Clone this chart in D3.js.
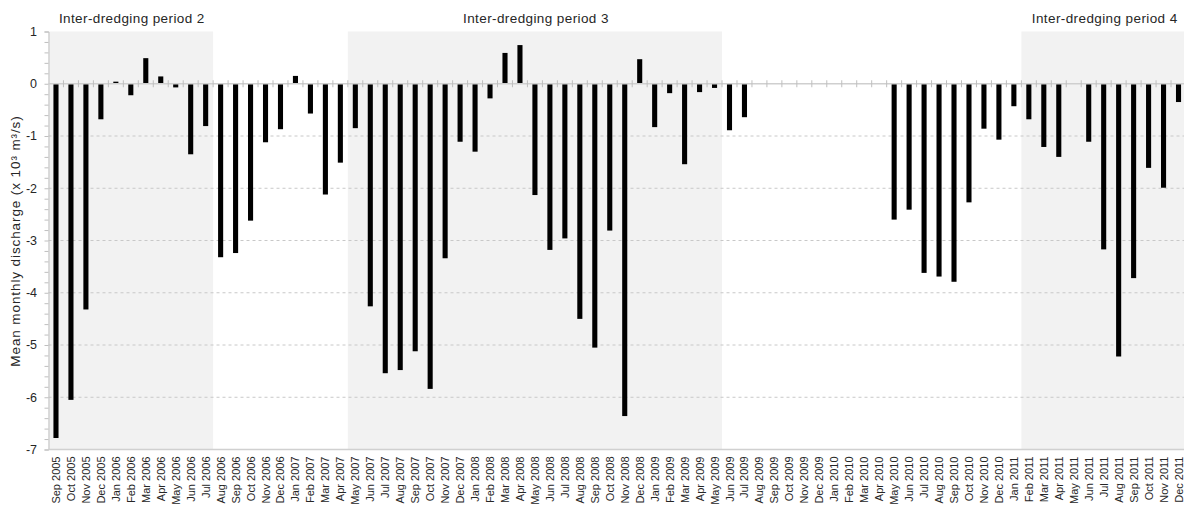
<!DOCTYPE html>
<html>
<head>
<meta charset="utf-8">
<script src="https://cdn.jsdelivr.net/npm/d3@7"></script>
<style>
  html, body { margin: 0; padding: 0; background: #fff; }
  svg { display: block; font-family: "Liberation Sans", Arial, sans-serif; }
</style>
</head>
<body>
<svg id="chart" width="1184" height="509"></svg>
<script>
// Monthly categories, Sep 2005 – Dec 2011
const monthNames = ["Jan","Feb","Mar","Apr","May","Jun","Jul","Aug","Sep","Oct","Nov","Dec"];
const months = [];
for (let yr = 2005, m = 8; yr < 2012; ) {
  months.push(monthNames[m] + " " + yr);
  m++; if (m === 12) { m = 0; yr++; }
}

// Mean monthly discharge (x 10^3 m^3/s); null = no data
const discharge = [
  -6.78, -6.05, -4.32, -0.68,            // Sep–Dec 2005
   0.04, -0.22,  0.49,  0.14, -0.07, -1.35, -0.81, -3.32, -3.24, -2.62, -1.12, -0.87, // 2006
   0.15, -0.57, -2.12, -1.51, -0.85, -4.26, -5.54, -5.48, -5.12, -5.84, -3.34, -1.11, // 2007
  -1.30, -0.28,  0.59,  0.74, -2.13, -3.18, -2.96, -4.50, -5.05, -2.81, -6.36,  0.47, // 2008
  -0.83, -0.18, -1.54, -0.16, -0.08, -0.89, -0.64,  null,  null,  null,  null,  null, // 2009
   null,  null,  null,  null, -2.60, -2.41, -3.62, -3.69, -3.79, -2.27, -0.86, -1.07, // 2010
  -0.43, -0.68, -1.21, -1.40,  null, -1.11, -3.17, -5.22, -3.72, -1.61, -1.99, -0.35  // 2011
];

const yTicks = [1, 0, -1, -2, -3, -4, -5, -6, -7];

// Inter-dredging periods (first and last month shaded)
const periods = [
  { label: "Inter-dredging period 2", from: "Sep 2005", to: "Jul 2006" },
  { label: "Inter-dredging period 3", from: "May 2007", to: "May 2009" },
  { label: "Inter-dredging period 4", from: "Feb 2011", to: "Dec 2011" }
];

const svg = d3.select("#chart");
const plotL = 48.5, plotR = 1186, plotT = 31.5, plotB = 449.5;

const x = d3.scaleBand().domain(months).range([plotL, plotR]).paddingInner(0.66).paddingOuter(0.33);
const y = d3.scaleLinear().domain([-7, 1]).range([plotB, plotT]);
const step = x.step();
const edge = d => x(d) - x.paddingInner() * step / 2;

// shaded periods
svg.append("g").selectAll("rect").data(periods).join("rect")
  .attr("x", d => edge(d.from))
  .attr("width", d => edge(d.to) + step - edge(d.from))
  .attr("y", plotT).attr("height", plotB - plotT)
  .attr("fill", "#f2f2f2");

svg.append("g").selectAll("text").data(periods).join("text")
  .attr("x", d => (edge(d.from) + Math.min(edge(d.to) + step, plotR)) / 2 + 1)
  .attr("y", 22.5)
  .attr("text-anchor", "middle")
  .attr("font-size", 13.5)
  .attr("letter-spacing", 0.4)
  .attr("fill", "#262626")
  .text(d => d.label);

// dashed gridlines
svg.append("g").selectAll("line").data(yTicks.filter(v => v < 0 && v > -7)).join("line")
  .attr("x1", plotL).attr("x2", plotR)
  .attr("y1", d => y(d)).attr("y2", d => y(d))
  .attr("stroke", "#c8c8c8").attr("stroke-width", 1).attr("stroke-dasharray", "3,3");

// y axis with minor ticks
const yAxis = d3.axisLeft(y).tickValues(d3.range(-7, 1.0001, 0.2)).tickSize(4).tickFormat("");
const gy = svg.append("g").attr("transform", `translate(${plotL},0)`).call(yAxis);
gy.select(".domain").attr("stroke", "#bfbfbf");
gy.selectAll(".tick line").attr("stroke", "#bfbfbf");

svg.append("g").selectAll("text").data(yTicks).join("text")
  .attr("x", 37).attr("y", d => y(d)).attr("dy", "0.35em")
  .attr("text-anchor", "end").attr("font-size", 12.5).attr("fill", "#262626")
  .text(d => d);

// bottom frame line
svg.append("line").attr("x1", plotL).attr("x2", plotR)
  .attr("y1", plotB).attr("y2", plotB)
  .attr("stroke", "#d0d0d0").attr("stroke-width", 1.5);

// bars
svg.append("g").selectAll("rect").data(months.map((m, i) => ({ m, v: discharge[i] })).filter(d => d.v !== null))
  .join("rect")
  .attr("x", d => x(d.m)).attr("width", x.bandwidth())
  .attr("y", d => y(Math.max(0, d.v)))
  .attr("height", d => Math.abs(y(d.v) - y(0)))
  .attr("fill", "#000");

// zero line with category tick marks
svg.append("line").attr("x1", plotL).attr("x2", plotR)
  .attr("y1", y(0)).attr("y2", y(0))
  .attr("stroke", "#cfcfcf").attr("stroke-width", 1.5);
svg.append("g").selectAll("line").data(months.slice(1)).join("line")
  .attr("x1", d => edge(d)).attr("x2", d => edge(d))
  .attr("y1", y(0) - 3.5).attr("y2", y(0) + 3.5)
  .attr("stroke", "#bfbfbf").attr("stroke-width", 1);

// month labels
svg.append("g").selectAll("text").data(months).join("text")
  .attr("transform", d => `translate(${x(d) + x.bandwidth() / 2 + 4},${plotB + 7}) rotate(-90)`)
  .attr("text-anchor", "end")
  .attr("font-size", 11)
  .attr("fill", "#262626")
  .text(d => d);

// y axis title
svg.append("text")
  .attr("transform", `translate(20,241) rotate(-90)`)
  .attr("text-anchor", "middle")
  .attr("font-size", 13.5)
  .attr("letter-spacing", 0.9)
  .attr("fill", "#262626")
  .text("Mean monthly discharge (x 10³ m³/s)");
</script>
</body>
</html>
